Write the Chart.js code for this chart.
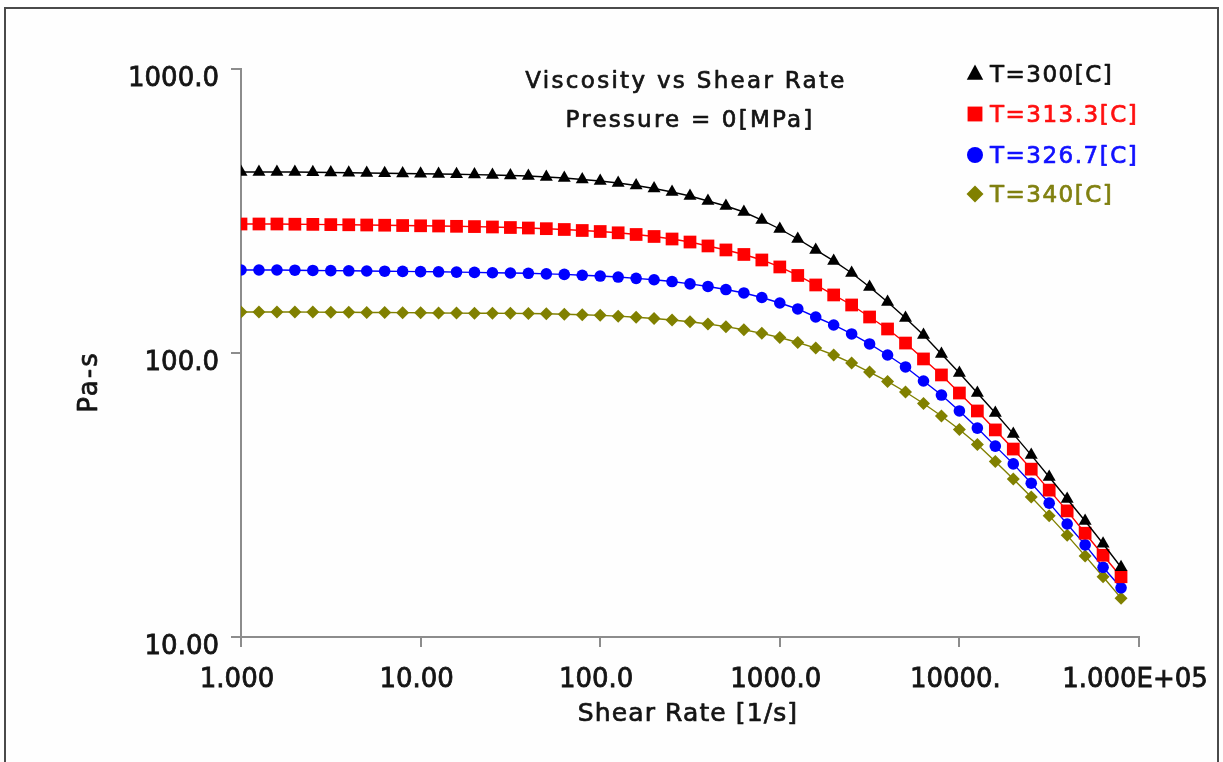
<!DOCTYPE html>
<html>
<head>
<meta charset="utf-8">
<title>Viscosity vs Shear Rate</title>
<script src="https://cdn.jsdelivr.net/npm/chart.js@4.4.0/dist/chart.umd.min.js"></script>
<style>
  html, body { margin: 0; padding: 0; background: #fefefe; overflow: hidden; }
  #chart { display: block; }
</style>
</head>
<body>
<canvas id="chart" width="1223" height="762"></canvas>
<script>
// Data
//-----------------------------------------------------------------------------

var shearRates = [
  1, 1.259, 1.585, 1.995, 2.512, 3.162, 3.981, 5.012, 6.31, 7.943,
  10, 12.59, 15.85, 19.95, 25.12, 31.62, 39.81, 50.12, 63.1, 79.43,
  100, 125.9, 158.5, 199.5, 251.2, 316.2, 398.1, 501.2, 631, 794.3,
  1000, 1259, 1585, 1995, 2512, 3162, 3981, 5012, 6310, 7943,
  10000, 12589, 15849, 19953, 25119, 31623, 39811, 50119, 63096, 79433
];

var etaT300 = [
  434, 434, 434, 434, 433, 432.2, 431.1, 430.4, 429.3, 428.5,
  427.6, 426.9, 425.8, 424.8, 423.4, 421.7, 420, 416.6, 413.2, 408.2,
  403.3, 396.8, 388.9, 379.5, 368.9, 357.1, 342.9, 329.3, 313.7, 293.9,
  273.3, 252, 230.6, 210.9, 191.3, 170.8, 151.2, 132.8, 115.7, 99.2,
  85, 72.3, 61.5, 51.9, 43.7, 36.6, 30.6, 25.6, 21.3, 17.6
];

var etaT313 = [
  284.6, 284.6, 284.6, 284.1, 283.7, 283.2, 282.8, 282.3, 281.8, 281.1,
  280.5, 280, 279.3, 278.7, 277.8, 276.6, 275.5, 274, 272.2, 270,
  267.8, 265, 261.4, 257.2, 252, 245.9, 238.2, 230.6, 222.3, 212.6,
  200.9, 187.5, 173.6, 160.1, 147.6, 133.9, 121.5, 108.4, 95.3, 83.7,
  72.3, 62.5, 53.6, 45.9, 39, 32.9, 27.8, 23.2, 19.4, 16.3
];

var etaT327 = [
  196, 196, 196, 195.7, 195.3, 195, 194.7, 194.4, 194.1, 193.8,
  193.5, 193.2, 192.7, 192.2, 191.7, 191.3, 190.8, 190, 189.1, 187.8,
  186.6, 185.1, 183.2, 181.1, 178.5, 175.2, 171.5, 167.3, 162.7, 156.8,
  150, 142.9, 133.9, 125.5, 116.7, 107.6, 98.4, 89.3, 79.7, 71.1,
  62.5, 54.4, 47, 40.7, 34.8, 29.6, 25, 21.1, 17.6, 14.9
];

var etaT340 = [
  139.5, 139.5, 139.5, 139.5, 139.3, 139.2, 139.1, 138.9, 138.8, 138.7,
  138.6, 138.3, 138.2, 138.1, 138, 137.9, 137.7, 137.4, 136.9, 136.3,
  135.7, 134.8, 133.7, 132.3, 130.7, 128.8, 126.5, 123.8, 120.8, 117.3,
  113.4, 108.9, 104.1, 98.4, 92.2, 85.7, 79.4, 72.9, 66.4, 60,
  53.8, 47.6, 41.5, 36, 31.1, 26.7, 22.8, 19.3, 16.3, 13.7
];

var seriesLabels = ['T=300[C]', 'T=313.3[C]', 'T=326.7[C]', 'T=340[C]'];

var xTickValues = [1, 10, 100, 1000, 10000, 100000];
var xTickLabels = ['1.000', '10.00', '100.0', '1000.0', '10000.', '1.000E+05'];
var yTickValues = [10, 100, 1000];
var yTickLabels = ['10.00', '100.0', '1000.0'];

var chartTitle = ['Viscosity vs Shear Rate', 'Pressure = 0[MPa]'];
var xTitle = 'Shear Rate [1/s]';
var yTitle = 'Pa-s';


// Styles
//-----------------------------------------------------------------------------

var FONT = '"DejaVu Sans", Verdana, sans-serif';
var INK = '#141414';
var AXIS_GREY = '#8c8c8c';

var seriesStyles = [
  { color: '#000000', text: '#111111', marker: 'triangle', radius: 7.5, legendRadius: 9.5 },
  { color: '#ff0000', text: '#ff1010', marker: 'rect',     radius: 9,   legendRadius: 10.5 },
  { color: '#0000ff', text: '#1010ff', marker: 'circle',   radius: 5.8, legendRadius: 8 },
  { color: '#808000', text: '#808010', marker: 'rectRot',  radius: 6.5, legendRadius: 8.5 }
];

var seriesValues = [etaT300, etaT313, etaT327, etaT340];


// Helpers
//-----------------------------------------------------------------------------

function $each(list, fn) {
  for (var i = 0; i < list.length; i++) { fn(i, list[i]); }
}

function drawMarker(ctx, style, x, y, r) {
  ctx.beginPath();
  if (style === 'triangle') {
    ctx.moveTo(x, y - r);
    ctx.lineTo(x + r * 0.866, y + r * 0.6);
    ctx.lineTo(x - r * 0.866, y + r * 0.6);
  } else if (style === 'rect') {
    var s = r * Math.SQRT1_2;
    ctx.rect(x - s, y - s, 2 * s, 2 * s);
  } else if (style === 'circle') {
    ctx.arc(x, y, r, 0, Math.PI * 2);
  } else {
    ctx.moveTo(x, y - r);
    ctx.lineTo(x + r, y);
    ctx.lineTo(x, y + r);
    ctx.lineTo(x - r, y);
  }
  ctx.closePath();
  ctx.fill();
}

// the old bitmap font is heavier than DejaVu, so a thin stroke thickens it
function heavyText(ctx, text, x, y, spacing) {
  ctx.letterSpacing = spacing + 'px';
  ctx.strokeStyle = ctx.fillStyle;
  ctx.lineWidth = 0.7;
  ctx.lineJoin = 'round';
  ctx.strokeText(text, x, y);
  ctx.fillText(text, x, y);
  ctx.letterSpacing = '0px';
}


// Datasets
//-----------------------------------------------------------------------------

var datasets = [];
$each(seriesValues, function(index, values) {
  var style = seriesStyles[index];
  datasets.push({
    label: seriesLabels[index],
    data: shearRates.map(function(x, i) { return { x: x, y: values[i] }; }),
    borderColor: style.color,
    backgroundColor: style.color,
    borderWidth: 1.4,
    tension: 0,
    pointStyle: style.marker,
    pointRadius: style.radius,
    pointHoverRadius: style.radius,
    pointBorderWidth: 0,
    pointBackgroundColor: style.color
  });
});


// Decorations: frame, titles, legend
//-----------------------------------------------------------------------------

var decorPlugin = {
  id: 'decor',
  beforeDraw: function(chart) {
    var ctx = chart.ctx;
    ctx.save();
    ctx.fillStyle = '#fefefe';
    ctx.fillRect(0, 0, chart.width, chart.height);
    // page frame
    ctx.strokeStyle = '#4a4a4a';
    ctx.lineWidth = 2;
    ctx.beginPath();
    ctx.moveTo(5, chart.height);
    ctx.lineTo(5, 8);
    ctx.lineTo(1218, 8);
    ctx.lineTo(1218, chart.height);
    ctx.stroke();
    ctx.restore();
  },
  afterDraw: function(chart) {
    var ctx = chart.ctx;
    ctx.save();
    ctx.fillStyle = INK;
    ctx.textBaseline = 'alphabetic';

    // chart title
    ctx.font = '23px ' + FONT;
    ctx.textAlign = 'center';
    heavyText(ctx, chartTitle[0], 686, 88, 2.3);
    heavyText(ctx, chartTitle[1], 690, 127, 2.2);

    // axis titles
    ctx.font = '25px ' + FONT;
    heavyText(ctx, xTitle, 688, 721, 1.1);

    ctx.save();
    ctx.translate(97, 382);
    ctx.rotate(-Math.PI / 2);
    ctx.font = '26px ' + FONT;
    heavyText(ctx, yTitle, 0, 0, 2);
    ctx.restore();

    // legend
    ctx.font = '23px ' + FONT;
    ctx.textAlign = 'left';
    var rows = [82, 122, 163, 202];
    $each(seriesLabels, function(i, label) {
      var style = seriesStyles[i];
      ctx.fillStyle = style.color;
      drawMarker(ctx, style.marker, 975, rows[i] - 8, style.legendRadius);
      ctx.fillStyle = style.text;
      heavyText(ctx, label, 990, rows[i], 1.5);
    });
    ctx.restore();
  }
};


// Chart
//-----------------------------------------------------------------------------

var tickFont = { family: FONT, size: 26 };

var chart = new Chart(document.getElementById('chart'), {
  type: 'line',
  data: { datasets: datasets },
  plugins: [decorPlugin],
  options: {
    responsive: false,
    animation: false,
    events: [],
    layout: { padding: { top: 69, right: 84, left: 0, bottom: 0 } },
    plugins: { legend: { display: false }, tooltip: { enabled: false }, title: { display: false } },
    scales: {
      x: {
        type: 'logarithmic',
        position: 'bottom',
        min: 1,
        max: 100000,
        afterBuildTicks: function(axis) {
          axis.ticks = xTickValues.map(function(v) { return { value: v }; });
        },
        afterFit: function(axis) {
          // plot frame is fixed by the layout padding, not by label overhang
          axis.height = 125;
          axis.paddingLeft = 0;
          axis.paddingRight = 0;
        },
        ticks: {
          autoSkip: false,
          maxRotation: 0,
          minRotation: 0,
          padding: 18,
          labelOffset: -4,
          color: INK,
          textStrokeColor: INK,
          textStrokeWidth: 0.8,
          font: tickFont,
          callback: function(value, index) { return xTickLabels[index]; }
        },
        grid: { drawOnChartArea: false, drawTicks: true, tickLength: 10, color: AXIS_GREY, lineWidth: 2 },
        border: { display: true, color: AXIS_GREY, width: 2 }
      },
      y: {
        type: 'logarithmic',
        position: 'left',
        min: 10,
        max: 1000,
        afterBuildTicks: function(axis) {
          axis.ticks = yTickValues.map(function(v) { return { value: v }; });
        },
        afterFit: function(axis) {
          axis.width = 241;
          axis.paddingTop = 0;
          axis.paddingBottom = 0;
        },
        ticks: {
          autoSkip: false,
          padding: 12,
          labelOffset: 10,
          color: INK,
          textStrokeColor: INK,
          textStrokeWidth: 0.8,
          font: tickFont,
          callback: function(value, index) { return yTickLabels[index]; }
        },
        grid: { drawOnChartArea: false, drawTicks: true, tickLength: 10, color: AXIS_GREY, lineWidth: 2 },
        border: { display: true, color: AXIS_GREY, width: 2 }
      }
    }
  }
});
</script>
</body>
</html>
